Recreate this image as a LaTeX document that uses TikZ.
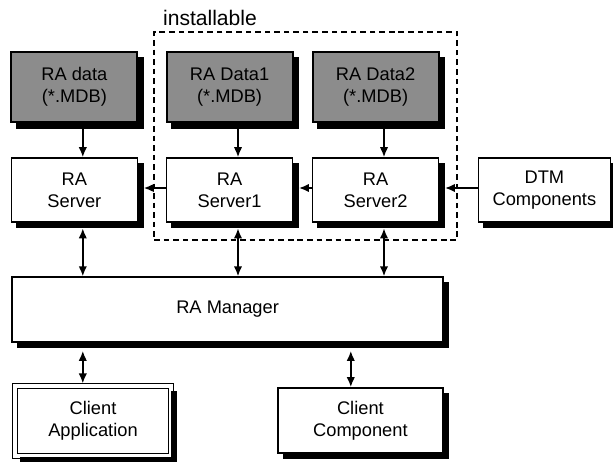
\documentclass[tikz,border=0pt]{standalone}
\usepackage{fontspec}
\setmainfont{Liberation Sans}
\usetikzlibrary{arrows.meta}

\begin{document}
\begin{tikzpicture}[>={Latex[length=2.5mm,width=2.1mm]},font=\fontsize{13}{15.6}\selectfont,
 box/.style={draw,line width=1.1pt,fill=white,minimum width=3.15cm,minimum height=1.6cm,align=center,inner sep=1pt},
 datbox/.style={box,fill=black!45,line width=1.4pt,minimum height=1.75cm},
 link/.style={->,line width=1.2pt},
 both/.style={<->,line width=1.2pt}]
\useasboundingbox (0,0) rectangle (15.325,-11.6);
% installable group
\node[draw,line width=1.1pt,dash pattern=on 4pt off 2.8pt,minimum width=7.575cm,minimum height=5.2cm] (grp) at (7.64,-3.4) {};
\node[font=\fontsize{15}{18}\selectfont,anchor=base west] (lbl) at ([xshift=0.12cm,yshift=0.15cm]grp.north west) {installable};
% data and servers
\node[datbox] (dat) at (1.86,-2.175) {RA data\\(*.MDB)};
\node[datbox] (dat1) at (5.74,-2.175) {RA Data1\\(*.MDB)};
\node[datbox] (dat2) at (9.39,-2.175) {RA Data2\\(*.MDB)};
\node[box] (srv) at (1.86,-4.75) {RA\\Server};
\node[box] (srv1) at (5.74,-4.75) {RA\\Server1};
\node[box] (srv2) at (9.39,-4.75) {RA\\Server2};
\node[box,minimum width=3.3cm] (dtm) at (13.61,-4.75) {DTM\\Components};
% manager and clients
\node[box,minimum width=10.775cm,minimum height=1.625cm] (mgr) at (5.69,-7.74) {RA Manager};
\node[box,double,double distance=0.09cm,line width=0.8pt,minimum width=3.89cm,minimum height=1.75cm] (capp) at (2.325,-10.525) {Client\\Application};
\node[box,minimum width=4.125cm,minimum height=1.625cm] (ccomp) at (9.01,-10.51) {Client\\Component};
% shadows
\foreach \n in {dat,dat1,dat2,srv,srv1,srv2,dtm,mgr,capp,ccomp} {
  \path[fill=black] ([yshift=-0.14cm]\n.north east) rectangle ([shift={(0.14,-0.14)}]\n.south east);
  \path[fill=black] ([xshift=0.14cm]\n.south west) rectangle ([shift={(0.14,-0.14)}]\n.south east);
}
% connectors
\foreach \d/\s in {dat/srv,dat1/srv1,dat2/srv2} \draw[link] ([xshift=0.21cm,yshift=-0.14cm]\d.south) -- ([xshift=0.21cm]\s.north);
\foreach \a/\b in {srv1/srv,srv2/srv1,dtm/srv2} \draw[link] ([yshift=0.05cm]\a.west) -- ([xshift=0.14cm,yshift=0.05cm]\b.east);
\foreach \s in {srv,srv1,srv2} \draw[both] ([xshift=0.21cm,yshift=-0.14cm]\s.south) -- ([xshift=0.21cm]\s.south |- mgr.north);
\draw[both] ([xshift=0.21cm,yshift=-0.2cm]srv.south |- mgr.south) -- ([xshift=0.21cm,yshift=0.05cm]srv.south |- capp.north);
\draw[both] ([xshift=-0.24cm,yshift=-0.2cm]ccomp.north |- mgr.south) -- ([xshift=-0.24cm]ccomp.north);
\end{tikzpicture}
\end{document}
